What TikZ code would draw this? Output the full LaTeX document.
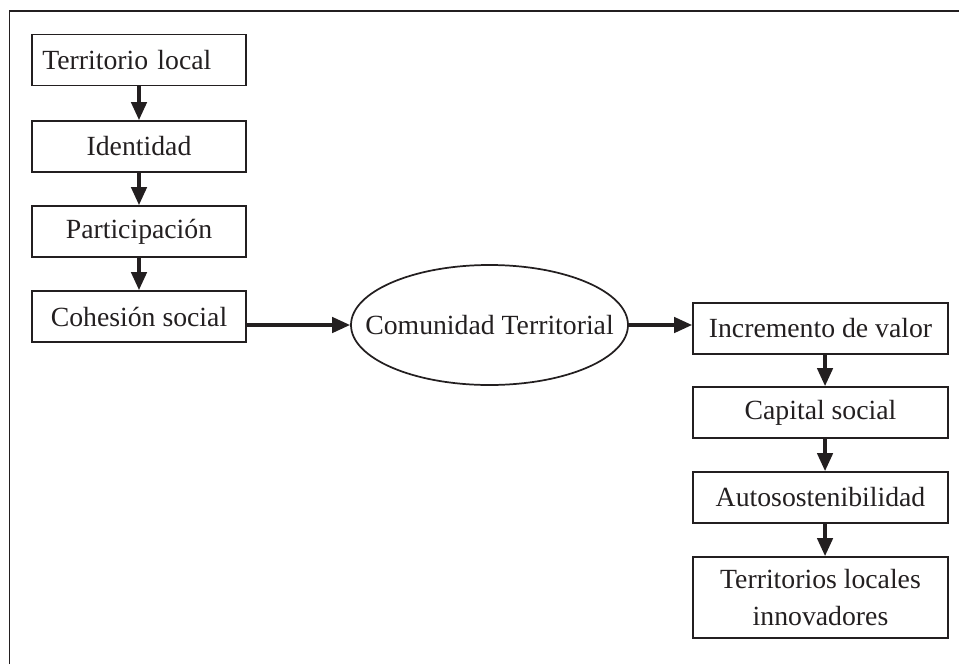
\documentclass[tikz,border=0pt]{standalone}
\usepackage{fontspec}
\setmainfont{Liberation Serif}
\usetikzlibrary{arrows.meta,shapes.geometric}
\definecolor{ink}{HTML}{231F20}
\begin{document}
\begin{tikzpicture}[x=0.75pt,y=-0.75pt,
  every node/.style={font=\fontsize{20.8}{27.5}\selectfont, text=ink},
  stepbox/.style={draw=ink, line width=1.3pt, inner sep=0pt, align=center},
  leftbox/.style={stepbox, minimum width=160.5pt, minimum height=38.25pt},
  rightbox/.style={stepbox, minimum width=191.25pt, minimum height=38.25pt},
  hub/.style={ellipse, draw=ink, line width=1.3pt, inner sep=0pt, minimum width=207.75pt, minimum height=90pt},
  flow/.style={draw=ink, line width=2.6pt, -{Triangle[length=13.5pt,width=11.5pt]}},
  frame/.style={draw=ink, line width=1.4pt}
]
\useasboundingbox (0,0) rectangle (959,664);
% outer frame (left and top edges)
\draw[frame] (9.5,664) -- (9.5,11) -- (959,11);

% left column
\node[leftbox, align=left, text width=145pt, inner xsep=8pt] (tl) at (139,60) {Territorio local};
\node[leftbox] (id) at (139,146.5) {Identidad};
\node[leftbox] (pa) at (139,231.5) {Participación};
\node[leftbox] (co) at (139,316.5) {Cohesión social};

% central ellipse (label boxed at zero width so the ellipse keeps its set size)
\node[hub] (ct) at (489.5,325) {\makebox[0pt]{Comunidad Territorial}};

% right column
\node[rightbox] (in) at (820.5,328.5) {Incremento de valor};
\node[rightbox] (cs) at (820.5,412.5) {Capital social};
\node[rightbox] (au) at (820.5,497.5) {Autosostenibilidad};
\node[rightbox, minimum height=60.75pt] (tn) at (820.5,597.5) {Territorios locales\\innovadores};

% connectors
\draw[flow] (tl.south) -- (id.north);
\draw[flow] (id.south) -- (pa.north);
\draw[flow] (pa.south) -- (co.north);
\draw[flow] (ct.west -| co.east) -- (ct.west);
\draw[flow] (ct.east) -- (ct.east -| in.west);
\draw[flow] ([xshift=3.4pt]in.south) -- ([xshift=3.4pt]cs.north);
\draw[flow] ([xshift=3.4pt]cs.south) -- ([xshift=3.4pt]au.north);
\draw[flow] ([xshift=3.4pt]au.south) -- ([xshift=3.4pt]tn.north);
\end{tikzpicture}
\end{document}
